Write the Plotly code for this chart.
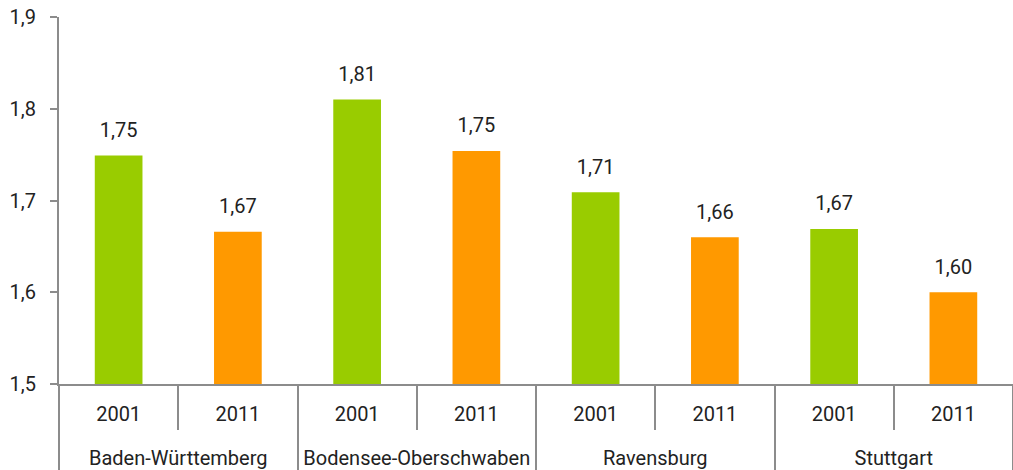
import plotly.graph_objects as go

regions = ["Baden-Württemberg", "Bodensee-Oberschwaben", "Ravensburg", "Stuttgart"]
years = ["2001", "2011"]
values = {
    "Baden-Württemberg": [1.749, 1.666],
    "Bodensee-Oberschwaben": [1.810, 1.754],
    "Ravensburg": [1.709, 1.660],
    "Stuttgart": [1.669, 1.600],
}
year_colors = {"2001": "#99cc00", "2011": "#ff9900"}

font_family = "Roboto"
grey = "#8c8c8c"
base = 1.5

# flatten into ordered positions
pos, ys, cols, yr_labels = [], [], [], []
for i, r in enumerate(regions):
    for j, yv in enumerate(years):
        pos.append(i * len(years) + j)
        ys.append(values[r][j])
        cols.append(year_colors[yv])
        yr_labels.append(yv)
n = len(pos)
group_centers = [i * len(years) + (len(years) - 1) / 2 for i in range(len(regions))]
year_bounds = [p + 0.5 for p in pos[:-1]]
group_bounds = [i * len(years) - 0.5 for i in range(len(regions) + 1)]

fig = go.Figure()
fig.add_trace(go.Bar(
    x=pos, y=[v - base for v in ys], base=base,
    marker=dict(color=cols, line=dict(width=0)),
    width=0.4, showlegend=False, hoverinfo="skip",
))
fig.add_trace(go.Scatter(
    x=pos, y=ys, mode="markers+text",
    marker=dict(size=20, opacity=0),
    texttemplate="%{y:.2f}", textposition="top center",
    textfont=dict(family=font_family, size=20, color="#222222"),
    showlegend=False, hoverinfo="skip", cliponaxis=False,
))
# invisible helper trace so the region axis is drawn
fig.add_trace(go.Scatter(
    x=group_centers, y=[base] * len(regions), xaxis="x2", mode="markers",
    marker=dict(size=1, opacity=0), showlegend=False, hoverinfo="skip",
))

fig.update_layout(
    width=1013, height=470,
    margin=dict(l=59, r=0, t=17, b=86),
    plot_bgcolor="white", paper_bgcolor="white",
    separators=", ",
    font=dict(family=font_family, size=20, color="#222222"),
    yaxis=dict(
        range=[1.5, 1.9], dtick=0.1, tickformat=".1f",
        showgrid=False, zeroline=False, automargin=False,
        showline=True, linecolor=grey, linewidth=2,
        ticks="outside", ticklen=7, tickcolor=grey, tickwidth=2,
        ticklabelstandoff=10, tickfont=dict(size=20),
    ),
    xaxis=dict(
        range=[-0.5, n - 0.5], automargin=False,
        tickvals=pos, ticktext=yr_labels, ticks="",
        showline=True, linecolor=grey, linewidth=2,
        showgrid=False, zeroline=False, tickfont=dict(size=20),
        ticklabelstandoff=11,
        minor=dict(tickvals=year_bounds, ticks="outside", ticklen=44,
                   tickcolor=grey, tickwidth=2, showgrid=False),
    ),
    xaxis2=dict(
        overlaying="x", anchor="y", side="bottom", matches="x",
        range=[-0.5, n - 0.5], automargin=False,
        tickvals=group_centers, ticktext=regions, ticks="",
        showline=False, showgrid=False, zeroline=False,
        tickfont=dict(size=20), ticklabelstandoff=60,
        minor=dict(tickvals=group_bounds, ticks="outside", ticklen=86,
                   tickcolor=grey, tickwidth=2, showgrid=False),
    ),
)

# remove the default 8px page margin so the figure fills the window exactly
fig.write_html("out.html",
               config={"displayModeBar": False},
               post_script="document.body.style.margin='0px';")
